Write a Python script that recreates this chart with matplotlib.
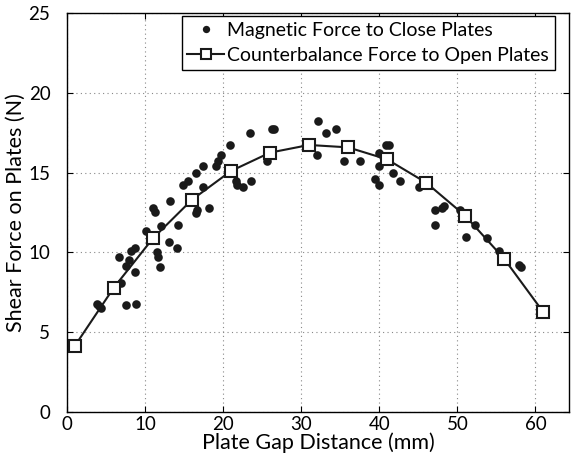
import matplotlib
matplotlib.use("Agg")
import matplotlib.pyplot as plt

plt.rcParams['font.family'] = ['Lato', 'DejaVu Sans']

# Magnetic force scatter (gap mm, force N)
mag_x = [3.8, 4.1, 4.4, 7.6, 8.8, 6.9, 8.7, 7.5, 8.0, 6.7, 8.2, 8.7,
         10.1, 11.5, 11.7, 11.9, 12.1, 11.0, 11.3, 13.2, 13.1, 14.1, 14.2,
         14.8, 15.5, 16.5, 17.4, 17.4, 16.5, 16.7, 18.2, 19.1, 19.4, 19.7,
         20.9, 21.7, 21.8, 22.6, 23.6, 23.5, 26.2, 26.5, 25.6, 32.2, 33.2,
         34.4, 32.0, 35.5, 37.5, 40.9, 41.3, 40.0, 40.0, 41.7, 42.6, 39.4,
         39.9, 45.1, 47.1, 48.0, 48.3, 47.1, 50.3, 51.1, 52.3, 53.8, 55.3,
         57.9, 58.1]
mag_y = [6.8, 6.64, 6.5, 6.7, 6.8, 8.06, 8.8, 9.15, 9.5, 9.7, 10.1, 10.3,
         11.36, 10.05, 9.7, 9.1, 11.65, 12.8, 12.55, 13.24, 10.67, 10.3, 11.7,
         14.2, 14.5, 15.0, 15.4, 14.1, 12.5, 12.66, 12.8, 15.4, 15.7, 16.1,
         16.7, 14.5, 14.2, 14.1, 14.5, 17.45, 17.7, 17.7, 15.7, 18.2, 17.45,
         17.7, 16.1, 15.7, 15.7, 16.7, 16.7, 16.2, 15.4, 15.0, 14.5, 14.6,
         14.2, 14.1, 12.65, 12.8, 12.9, 11.7, 12.65, 10.95, 11.7, 10.9, 10.1,
         9.2, 9.07]

# Counterbalance force
cb_x = [1, 6, 11, 16, 21, 26, 31, 36, 41, 46, 51, 56, 61]
cb_y = [4.15, 7.8, 10.88, 13.3, 15.1, 16.25, 16.73, 16.58, 15.83, 14.37, 12.3, 9.6, 6.27]

fig = plt.figure(figsize=(5.73, 4.61), dpi=100)
ax = fig.add_axes([0.117, 0.106, 0.876, 0.866])

ax.plot(mag_x, mag_y, 'o', color='#1a1a1a', markersize=6.2, markeredgewidth=0,
        label='Magnetic Force to Close Plates', zorder=3)
ax.plot(cb_x, cb_y, '-s', color='#1a1a1a', linewidth=1.5, markersize=8.5,
        markerfacecolor='white', markeredgewidth=1.5,
        label='Counterbalance Force to Open Plates', zorder=4)

ax.set_xlim(0, 64.3)
ax.set_ylim(0, 25)
ax.set_xticks([0, 10, 20, 30, 40, 50, 60])
ax.set_yticks([0, 5, 10, 15, 20, 25])
ax.grid(True, linestyle=(0, (1, 3)), color='#888888', linewidth=0.8)
ax.tick_params(direction='in', top=True, right=True, labelsize=13.5, length=4)
ax.tick_params(axis='y', pad=12)
ax.tick_params(axis='x', pad=3)
for s in ax.spines.values():
    s.set_linewidth(1.0)

ax.set_xlabel('Plate Gap Distance (mm)', fontsize=15.5, labelpad=-1)
ax.set_ylabel('Shear Force on Plates (N)', fontsize=15.5, labelpad=2)

leg = ax.legend(loc='upper right', bbox_to_anchor=(0.972, 0.992), fontsize=14,
                frameon=True, fancybox=False, edgecolor='black', framealpha=1,
                handlelength=1.9, handletextpad=0.15, borderpad=0.3,
                labelspacing=0.4, borderaxespad=0, markerscale=0.85)
leg.get_frame().set_linewidth(1.0)

fig.savefig('out.png', dpi=100)
